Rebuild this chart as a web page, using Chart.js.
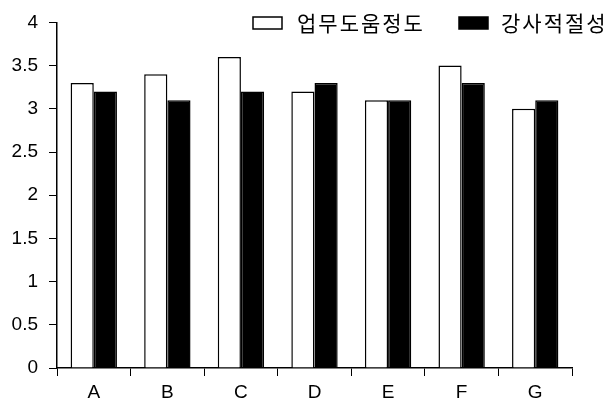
<!DOCTYPE html>
<html>
<head>
<meta charset="utf-8">
<script src="https://cdn.jsdelivr.net/npm/chart.js@4"></script>
<style>
  html, body { margin: 0; padding: 0; background: #fff; }
  #wrap { width: 612px; height: 403px; position: relative; }
</style>
</head>
<body>
<div id="wrap"><canvas id="chart"></canvas></div>
<script>
const categories = ["A", "B", "C", "D", "E", "F", "G"];
const seriesNames = ["업무도움정도", "강사적절성"];
const helpValues = [3.3, 3.4, 3.6, 3.2, 3.1, 3.5, 3.0];
const fitValues = [3.2, 3.1, 3.2, 3.3, 3.1, 3.3, 3.1];
const yMin = 0, yMax = 4, yStep = 0.5;

const latin = "'Liberation Sans', Arial, sans-serif";
const hangul = "'Noto Sans CJK KR', sans-serif";

// legend drawn by hand, it sits above the plot and runs past its right edge
const legendPlugin = {
  id: "topLegend",
  afterDraw(chart) {
    const ctx = chart.ctx;
    const items = [
      { x: 253, textX: 297 },
      { x: 459, textX: 501 }
    ];
    ctx.save();
    ctx.font = "21px " + hangul;
    ctx.letterSpacing = "2px";
    ctx.textBaseline = "middle";
    chart.data.datasets.forEach((ds, i) => {
      const it = items[i];
      ctx.fillStyle = ds.backgroundColor;
      ctx.strokeStyle = "#000";
      ctx.lineWidth = 1.5;
      ctx.fillRect(it.x, 17, 29, 12);
      ctx.strokeRect(it.x, 17, 29, 12);
      ctx.fillStyle = "#000";
      ctx.fillText(ds.label, it.textX, 23);
    });
    ctx.restore();
  }
};

new Chart(document.getElementById("chart"), {
  type: "bar",
  data: {
    labels: categories,
    datasets: [
      {
        label: seriesNames[0],
        data: helpValues,
        backgroundColor: "#fff",
        borderColor: "#000",
        borderWidth: 1.5
      },
      {
        label: seriesNames[1],
        data: fitValues,
        backgroundColor: "#000",
        borderColor: "#000",
        borderWidth: 1.5
      }
    ]
  },
  options: {
    responsive: true,
    maintainAspectRatio: false,
    animation: false,
    datasets: {
      bar: { categoryPercentage: 0.63, barPercentage: 1.0 }
    },
    layout: { padding: { left: 0, right: 40, top: 16, bottom: 0 } },
    plugins: {
      legend: { display: false },
      tooltip: { enabled: false }
    },
    scales: {
      x: {
        afterFit: (s) => { s.height = 35; },
        grid: { display: true, drawOnChartArea: false, drawTicks: true, tickLength: 8, color: "#000", lineWidth: 1, offset: true },
        border: { display: true, color: "#000", width: 1.5 },
        ticks: { color: "#000", font: { family: latin, size: 19 }, padding: 5 }
      },
      y: {
        min: yMin,
        max: yMax,
        afterFit: (s) => { s.width = 57; },
        grid: { display: true, drawOnChartArea: false, drawTicks: true, tickLength: 8, color: "#000", lineWidth: 1 },
        border: { display: true, color: "#000", width: 1.5 },
        ticks: {
          stepSize: yStep,
          color: "#000",
          font: { family: latin, size: 19 },
          padding: 11,
          callback: (v) => String(v)
        }
      }
    }
  },
  plugins: [legendPlugin]
});
</script>
</body>
</html>
